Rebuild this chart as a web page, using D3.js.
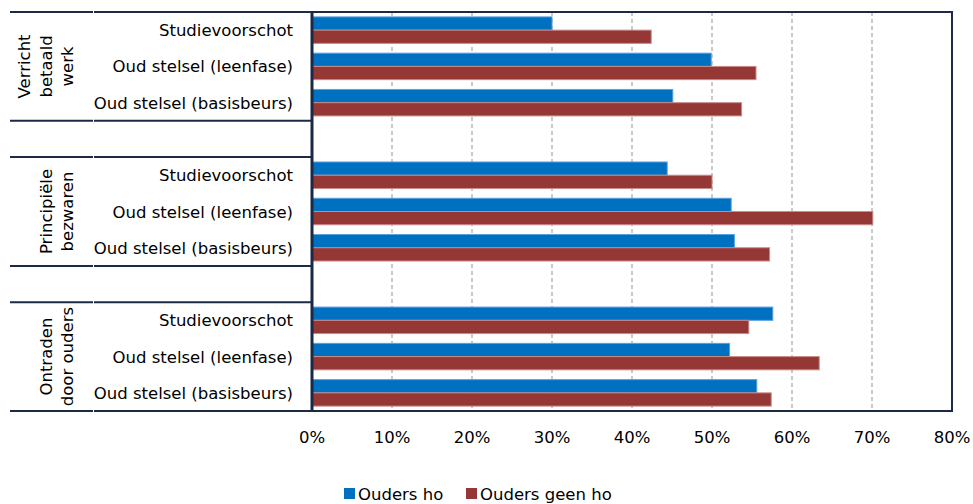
<!DOCTYPE html>
<html>
<head>
<meta charset="utf-8">
<script src="https://cdn.jsdelivr.net/npm/d3@7"></script>
<style>
  body { margin: 0; background: #fff; }
  svg text { font-family: "DejaVu Sans", sans-serif; fill: #000; }
</style>
</head>
<body>
<div id="chart"></div>
<script>
// group labels (outer level of the category axis), split in lines like the original
var groups = ["Verricht betaald werk", "Principiële bezwaren", "Ontraden door ouders"];
var groupLines = [["Verricht", "betaald", "werk"], ["Principiële", "bezwaren"], ["Ontraden", "door ouders"]];
// inner level
var subcats = ["Studievoorschot", "Oud stelsel (leenfase)", "Oud stelsel (basisbeurs)"];
var seriesNames = ["Ouders ho", "Ouders geen ho"];
// values per group, in subcats order (percent)
var oudersHo     = [30.0, 49.9, 45.1,  44.4, 52.4, 52.8,  57.6, 52.2, 55.6];
var oudersGeenHo = [42.4, 55.5, 53.7,  50.0, 70.1, 57.2,  54.6, 63.4, 57.4];
var xTicks = [0, 10, 20, 30, 40, 50, 60, 70, 80];

var colors = ["#0070c0", "#953735"];
var strokes = ["#5aa0dc", "#c98a88"];
var navy = "#1b2a47";

var width = 973, height = 504;
var plot = { left: 312, right: 952, top: 12, bottom: 411 };

var svg = d3.select("#chart").append("svg")
    .attr("width", width)
    .attr("height", height);

// rows: 3 groups of 3 with an empty row in between
var rows = [];
groups.forEach(function (g, gi) {
    subcats.forEach(function (s, si) {
        rows.push({ key: g + "|" + s, group: gi, sub: s, i: gi * 3 + si });
    });
    if (gi < groups.length - 1) rows.push({ key: "gap" + gi, gap: true });
});

var y = d3.scaleBand()
    .domain(rows.map(d => d.key))
    .range([plot.top, plot.bottom])
    .paddingInner(0).paddingOuter(0);

var ySub = d3.scaleBand()
    .domain(seriesNames)
    .range([0, y.bandwidth()])
    .paddingInner(0).paddingOuter(0.37);

var x = d3.scaleLinear().domain([0, 80]).range([plot.left, plot.right]);

// gridlines
svg.append("g").selectAll("line")
    .data(xTicks.filter(t => t > 0 && t < 80))
    .enter().append("line")
    .attr("x1", d => x(d)).attr("x2", d => x(d))
    .attr("y1", plot.top).attr("y2", plot.bottom)
    .attr("stroke", "#a6a6a6")
    .attr("stroke-width", 1.2)
    .attr("stroke-dasharray", "4,3");

// bars
var dataRows = rows.filter(d => !d.gap);
var barData = [];
dataRows.forEach(function (r) {
    barData.push({ row: r, s: 0, v: oudersHo[r.i] });
    barData.push({ row: r, s: 1, v: oudersGeenHo[r.i] });
});

svg.append("g").selectAll("rect")
    .data(barData)
    .enter().append("rect")
    .attr("x", x(0))
    .attr("y", d => y(d.row.key) + ySub(seriesNames[d.s]))
    .attr("width", d => x(d.v) - x(0))
    .attr("height", ySub.bandwidth())
    .attr("fill", d => colors[d.s])
    .attr("stroke", d => strokes[d.s])
    .attr("stroke-width", 1);

// plot frame
svg.append("rect")
    .attr("x", plot.left).attr("y", plot.top)
    .attr("width", plot.right - plot.left)
    .attr("height", plot.bottom - plot.top)
    .attr("fill", "none")
    .attr("stroke", navy)
    .attr("stroke-width", 2);
svg.append("line")
    .attr("x1", plot.left).attr("x2", plot.left)
    .attr("y1", plot.top - 1).attr("y2", plot.bottom + 1)
    .attr("stroke", navy).attr("stroke-width", 3);

// category table lines at group edges
var table = svg.append("g");
groups.forEach(function (g, gi) {
    var first = y(g + "|" + subcats[0]);
    var last = y(g + "|" + subcats[2]) + y.bandwidth();
    [first, last].forEach(function (yy) {
        table.append("line")
            .attr("x1", 10).attr("x2", 93)
            .attr("y1", yy).attr("y2", yy)
            .attr("stroke", navy).attr("stroke-width", 2);
        table.append("line")
            .attr("x1", 94).attr("x2", plot.left)
            .attr("y1", yy).attr("y2", yy)
            .attr("stroke", navy).attr("stroke-width", 2);
    });

    // rotated group label, last line sits at the same place for every group
    var mid = (first + last) / 2;
    var lines = groupLines[gi];
    var lh = 21.5;
    var t = table.append("text")
        .attr("transform", "translate(67," + mid + ") rotate(-90)")
        .attr("text-anchor", "middle")
        .style("font-size", "16.5px");
    lines.forEach(function (l, li) {
        t.append("tspan")
            .attr("x", 0)
            .attr("y", (li - (lines.length - 1)) * lh + 6)
            .text(l);
    });
});

// inner category labels
svg.append("g").selectAll("text")
    .data(dataRows)
    .enter().append("text")
    .attr("x", 293)
    .attr("y", d => y(d.key) + y.bandwidth() / 2 + 6)
    .attr("text-anchor", "end")
    .style("font-size", "16.5px")
    .text(d => d.sub);

// x axis labels
svg.append("g").selectAll("text")
    .data(xTicks)
    .enter().append("text")
    .attr("x", d => x(d))
    .attr("y", 443)
    .attr("text-anchor", "middle")
    .style("font-size", "16.5px")
    .text(d => d + "%");

// legend
var legendX = [344, 466];
var legend = svg.append("g");
seriesNames.forEach(function (n, i) {
    legend.append("rect")
        .attr("x", legendX[i]).attr("y", 488)
        .attr("width", 11).attr("height", 11)
        .attr("fill", colors[i]);
    legend.append("text")
        .attr("x", legendX[i] + 14)
        .attr("y", 500)
        .style("font-size", "16.5px")
        .text(n);
});
</script>
</body>
</html>
